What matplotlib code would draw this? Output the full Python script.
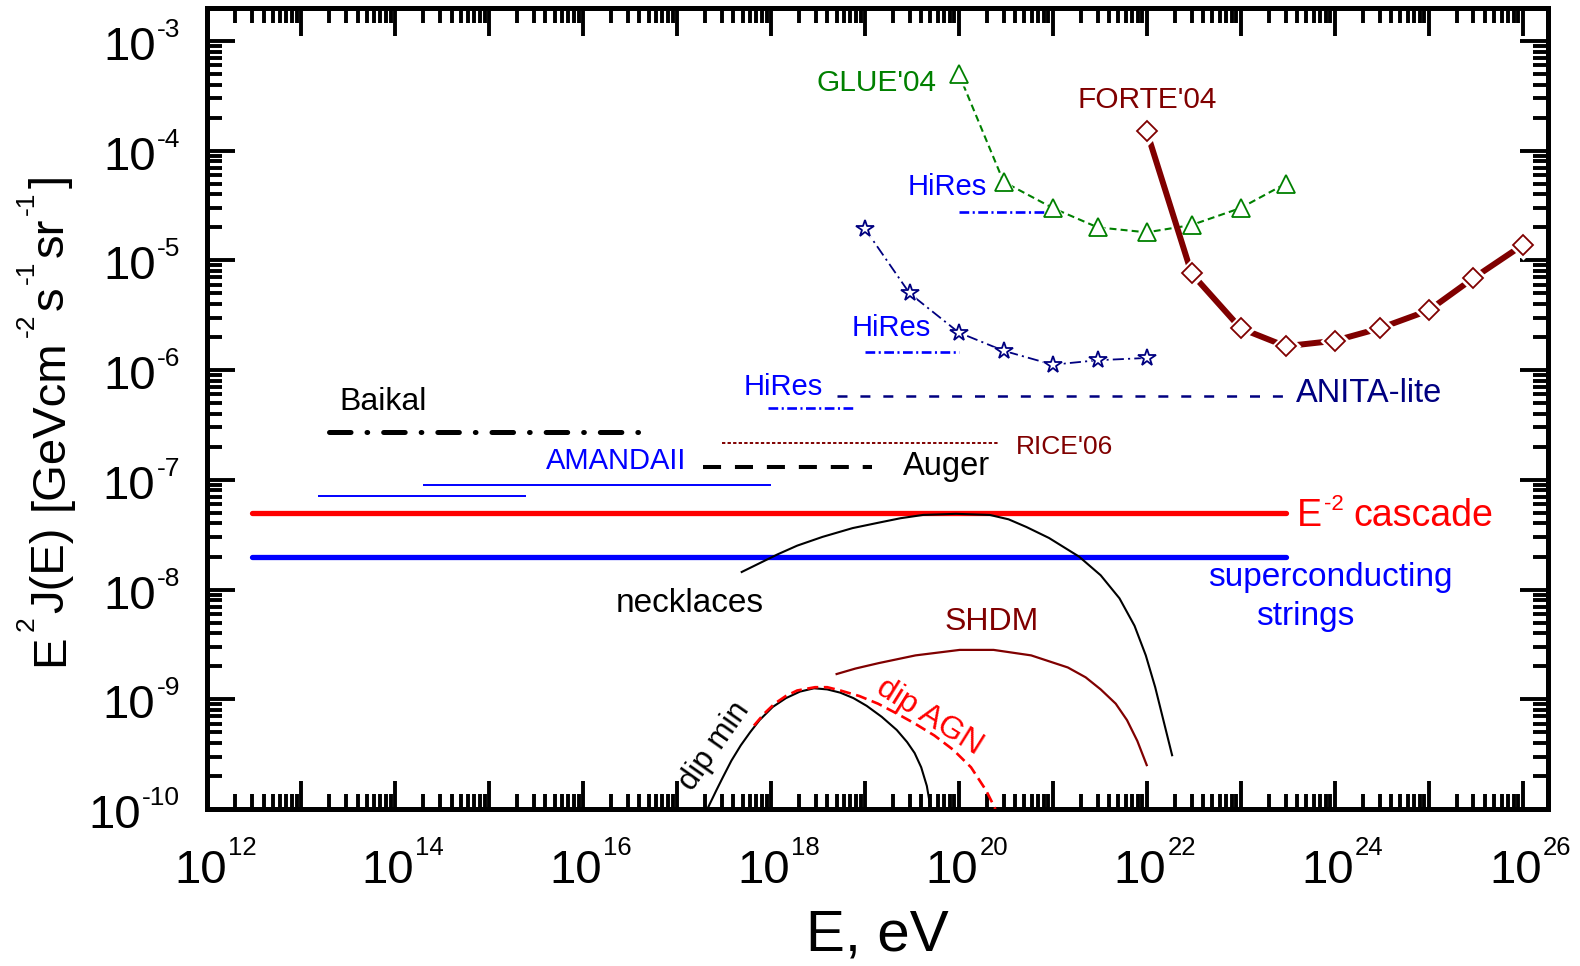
import numpy as np
import matplotlib
matplotlib.use('Agg')
import matplotlib.pyplot as plt
from matplotlib.transforms import IdentityTransform
from matplotlib.ticker import FixedLocator, LogLocator, NullFormatter

plt.rcParams['font.family'] = ['Liberation Sans', 'DejaVu Sans']
plt.rcParams['lines.scale_dashes'] = False

# ---------------- data ----------------
glue_E = [1e20, 3e20, 1e21, 3e21, 1e22, 3e22, 1e23, 3e23]
glue_F = [5e-4, 5.2e-5, 3e-5, 2e-5, 1.8e-5, 2.1e-5, 3e-5, 5e-5]

forte_E = [1e22, 3e22, 1e23, 3e23, 1e24, 3e24, 1e25, 3e25, 1e26]
forte_F = [1.5e-4, 7.6e-6, 2.4e-6, 1.65e-6, 1.85e-6, 2.4e-6, 3.5e-6, 6.9e-6, 1.38e-5]

hires_E = [1e19, 3e19, 1e20, 3e20, 1e21, 3e21, 1e22]
hires_F = [1.95e-5, 5e-6, 2.2e-6, 1.5e-6, 1.12e-6, 1.23e-6, 1.29e-6]

# horizontal limits: (E_min, E_max, flux)
hires_up = (1e20, 9e20, 2.75e-5)
hires_mid = (1e19, 1e20, 1.45e-6)
hires_low = (9.3e17, 8e18, 4.5e-7)
anita = (5e18, 3e23, 5.8e-7)
rice = (3e17, 2.7e20, 2.15e-7)
auger = (1.9e17, 1.2e19, 1.3e-7)
baikal = (2e13, 4.2e16, 2.7e-7)
amanda1 = (1.5e13, 2.5e15, 7.1e-8)
amanda2 = (2e14, 1e18, 8.9e-8)
cascade = (3e12, 3e23, 5e-8)
strings = (3e12, 3e23, 2e-8)

# model curves (log10 E, log10 E^2 J)
neck_lx = [17.69, 17.88, 18.07, 18.28, 18.55, 18.87, 19.15, 19.38, 19.62, 19.97, 20.33, 20.53,
           20.72, 20.96, 21.28, 21.51, 21.71, 21.87, 21.99, 22.09, 22.18, 22.27]
neck_ly = [-7.84, -7.76, -7.68, -7.60, -7.52, -7.44, -7.39, -7.35, -7.32, -7.31, -7.32, -7.36,
           -7.43, -7.53, -7.70, -7.87, -8.08, -8.33, -8.60, -8.89, -9.20, -9.51]

shdm_lx = [18.70, 18.90, 19.15, 19.54, 20.01, 20.37, 20.77, 21.16, 21.35, 21.51, 21.67, 21.79,
           21.90, 22.00]
shdm_ly = [-8.77, -8.72, -8.67, -8.60, -8.55, -8.55, -8.60, -8.71, -8.80, -8.91, -9.04, -9.19,
           -9.38, -9.60]

dipmin_lx = [17.33, 17.42, 17.49, 17.58, 17.68, 17.78, 17.88, 18.02, 18.16, 18.31, 18.46, 18.60,
             18.74, 18.88, 19.02, 19.18, 19.34, 19.45, 19.53, 19.60, 19.66, 19.70]
dipmin_ly = [-9.99, -9.83, -9.71, -9.56, -9.42, -9.30, -9.19, -9.07, -8.99, -8.93, -8.90, -8.91,
             -8.94, -8.99, -9.06, -9.16, -9.28, -9.39, -9.49, -9.62, -9.79, -9.99]

dipagn_lx = [17.82, 17.93, 18.04, 18.16, 18.28, 18.47, 18.60, 18.74, 18.94, 19.14, 19.34, 19.53,
             19.74, 19.94, 20.13, 20.29, 20.39]
dipagn_ly = [-9.24, -9.13, -9.04, -8.97, -8.92, -8.89, -8.89, -8.92, -8.97, -9.04, -9.13, -9.22,
             -9.33, -9.46, -9.62, -9.83, -10.0]

x_tick_exps = [12, 14, 16, 18, 20, 22, 24, 26]
y_tick_exps = [-10, -9, -8, -7, -6, -5, -4, -3]

# ---------------- colours ----------------
GREEN = '#008000'
DRED = '#800000'
NAVY = '#000080'
BLUE = '#0000FF'
RED = '#FF0000'

W, H, DPI = 1580, 966, 100
fig = plt.figure(figsize=(W / DPI, H / DPI), dpi=DPI)
ax = fig.add_axes([207 / W, 1 - 809 / H, (1548 - 207) / W, (809 - 8) / H])
ax.set_xscale('log')
ax.set_yscale('log')
ax.set_xlim(1e12, 10 ** 26.27)
ax.set_ylim(1e-10, 10 ** -2.70)

for sp in ax.spines.values():
    sp.set_linewidth(3.6)
ax.xaxis.set_major_locator(FixedLocator([10.0 ** k for k in range(12, 27)]))
ax.yaxis.set_major_locator(FixedLocator([10.0 ** k for k in range(-10, -2)]))
ax.xaxis.set_minor_locator(LogLocator(base=10, subs=np.arange(2, 10), numticks=200))
ax.yaxis.set_minor_locator(LogLocator(base=10, subs=np.arange(2, 10), numticks=200))
ax.xaxis.set_minor_formatter(NullFormatter())
ax.yaxis.set_minor_formatter(NullFormatter())
ax.tick_params(which='major', direction='in', length=20, width=2.8, top=True, right=True,
               labelbottom=False, labelleft=False)
ax.tick_params(which='minor', direction='in', length=11, width=2.8, top=True, right=True)


def hline(seg, color, lw, dashes=None, cap='butt', z=2):
    kw = dict(color=color, lw=lw, solid_capstyle=cap, dash_capstyle=cap, zorder=z)
    if dashes is not None:
        kw['dashes'] = dashes
    ax.plot([seg[0], seg[1]], [seg[2], seg[2]], **kw)


hline(cascade, RED, 3.8, cap='round')
hline(strings, BLUE, 3.8, cap='round')
hline(baikal, 'black', 3.6, dashes=(15.5, 11.5, 0.5, 11.5), cap='round')
hline(amanda1, BLUE, 1.4)
hline(amanda2, BLUE, 1.4)
hline(auger, 'black', 2.9, dashes=(13, 10))
hline(rice, DRED, 1.4, dashes=(2.4, 1.6))
hline(anita, NAVY, 1.8, dashes=(7.2, 9.3))
hline(hires_low, BLUE, 1.9, dashes=(7, 2.5, 1.5, 2.5))
hline(hires_mid, BLUE, 1.9, dashes=(7, 2.5, 1.5, 2.5))
hline(hires_up, BLUE, 1.9, dashes=(7, 2.5, 1.5, 2.5))

# model curves
ax.plot(10 ** np.array(neck_lx), 10 ** np.array(neck_ly), color='black', lw=1.5, zorder=3)
ax.plot(10 ** np.array(shdm_lx), 10 ** np.array(shdm_ly), color=DRED, lw=1.6, zorder=3)
ax.plot(10 ** np.array(dipmin_lx), 10 ** np.array(dipmin_ly), color='black', lw=1.5, zorder=3)
ax.plot(10 ** np.array(dipagn_lx), 10 ** np.array(dipagn_ly), color=RED, lw=1.9,
        dashes=(8, 4), zorder=3)


def marked(E, F, color, lw, marker, ms, dashes=None, z=4, mew=1.3):
    kw = dict(color=color, lw=lw, zorder=z)
    if dashes is not None:
        kw['dashes'] = dashes
    ax.plot(E, F, **kw)
    ax.plot(E, F, ls='none', marker=marker, ms=ms + 5, mfc='white', mec='none', zorder=z + 0.1)
    ax.plot(E, F, ls='none', marker=marker, ms=ms, mfc='none', mec=color, mew=mew, zorder=z + 0.2)


marked(hires_E, hires_F, NAVY, 1.3, '*', 13, dashes=(8, 3, 1.5, 3), z=4)
marked(glue_E, glue_F, GREEN, 1.5, '^', 12.5, dashes=(5, 3), z=5)
marked(forte_E, forte_F, DRED, 4.3, 'D', 10, z=6)


# text labels (positions in log10 data coords)
def label(lx, ly, s, color, size, rot=0, ha='center'):
    ax.text(10 ** lx, 10 ** ly, s, color=color, fontsize=size, rotation=rot, ha=ha,
            va='center', rotation_mode='anchor', zorder=10)


label(19.12, -3.38, "GLUE'04", GREEN, 21.5)
label(22.01, -3.54, "FORTE'04", DRED, 21.5)
label(19.88, -4.33, "HiRes", BLUE, 21)
label(19.28, -5.62, "HiRes", BLUE, 21)
label(18.13, -6.15, "HiRes", BLUE, 21)
label(24.37, -6.21, "ANITA-lite", NAVY, 23.5)
label(13.87, -6.29, "Baikal", 'black', 23)
label(21.13, -6.70, "RICE'06", DRED, 19)
label(16.35, -6.83, "AMANDAII", BLUE, 21)
label(19.87, -6.88, "Auger", 'black', 23.5)
label(23.95, -7.89, "superconducting", BLUE, 24)
label(23.69, -8.25, "strings", BLUE, 24)
label(17.14, -8.13, "necklaces", 'black', 24)
label(20.35, -8.30, "SHDM", DRED, 23)
label(17.40, -9.43, "dip min", 'black', 22.5, rot=55)
label(19.69, -9.16, "dip AGN", RED, 23, rot=-32)

renderer = fig.canvas.get_renderer()


def rich(pieces, x, y, rot=0, align='left', color='black'):
    a = np.deg2rad(rot)
    ux, uy = np.cos(a), np.sin(a)
    nx, ny = -np.sin(a), np.cos(a)
    made = []
    pos = 0.0
    for s, size, rise, gap in pieces:
        t = fig.text(0, 0, s, fontsize=size, rotation=rot, rotation_mode='anchor', ha='left',
                     va='baseline', color=color, transform=IdentityTransform())
        ext = t.get_window_extent(renderer)
        adv = ext.width if abs(np.sin(a)) < 0.5 else ext.height
        made.append((t, pos, rise))
        pos += adv + gap
    total = pos - pieces[-1][3]
    shift = {'left': 0.0, 'center': total / 2, 'right': total}[align]
    for t, p, rise in made:
        q = p - shift
        t.set_position((x + ux * q + nx * rise, y + uy * q + ny * rise))
    return total


# E^-2 cascade label
cx, cy = ax.transData.transform((10 ** 23.6, 10 ** -7.31))
rich([("E", 27, 0, 2), ("-2", 16, 16, 10), ("cascade", 27, 0, 0)], cx, cy - 12, color=RED)

# tick labels
x0_disp, y0_disp = ax.transAxes.transform((0, 0))
for k in x_tick_exps:
    tx = ax.transData.transform((10.0 ** k, 1e-10))[0]
    rich([("10", 34, 0, 1), (str(k), 18.5, 28, 0)], tx + 8, y0_disp - 74, align='center')
for k in y_tick_exps:
    ty = ax.transData.transform((1e12, 10.0 ** k))[1]
    rich([("10", 34, 0, 1), (str(k), 19, 23, 0)], x0_disp - 27, ty - 19, align='right')

# axis titles
xc = ax.transAxes.transform((0.5, 0))[0]
fig.text(xc, 16, "E, eV", fontsize=42, ha='center', va='baseline', transform=IdentityTransform())
yc = ax.transAxes.transform((0, 0.5))[1] - 12
rich([("E", 34, 0, 4), ("2", 19, 29, 3), ("J(E)", 34, 0, 17), ("[GeVcm", 34, 0, 2),
      ("-2", 19, 29, 4), ("s", 34, 0, 2), ("-1", 19, 29, 4), ("sr", 34, 0, 2),
      ("-1", 19, 29, 4), ("]", 34, 0, 0)], 63, yc, rot=90, align='center')

fig.savefig('out.png', dpi=DPI)
